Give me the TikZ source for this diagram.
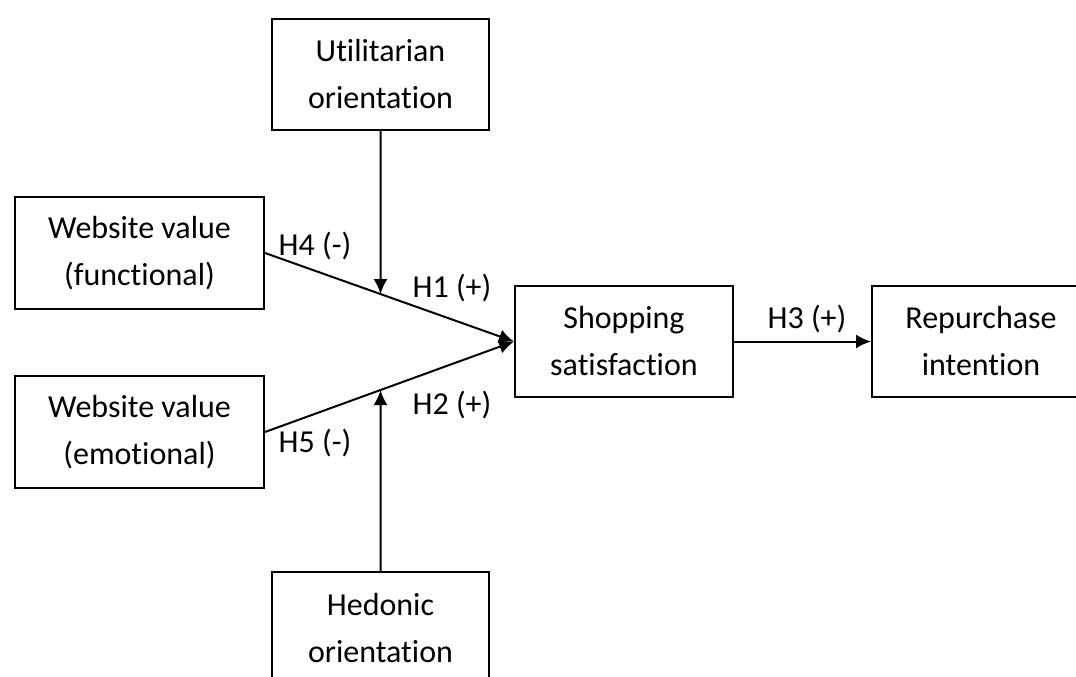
\documentclass[tikz,border=0pt]{standalone}
\usepackage{fontspec}
\setmainfont{Carlito}[Ligatures=NoCommon]
\usetikzlibrary{arrows.meta}
\begin{document}
\begin{tikzpicture}[x=1pt,y=-1pt,
  box/.style={draw,line width=2pt,align=center,inner sep=0pt,
    font=\fontsize{32}{47}\selectfont},
  lbl/.style={font=\fontsize{32}{47}\selectfont,inner sep=0pt},
  conn/.style={line width=2pt,-{Latex[length=15pt,width=14pt]}}]
\useasboundingbox (0,0) rectangle (1076,677);
\clip (0,0) rectangle (1076,677);
\node[box,minimum width=217pt,minimum height=111pt] (util) at (380.5,74.5) {Utilitarian\\orientation};
\node[box,minimum width=249pt,minimum height=112pt] (func) at (139.5,253) {Website value\\(functional)};
\node[box,minimum width=249pt,minimum height=112pt] (emot) at (139.5,432) {Website value\\(emotional)};
\node[box,minimum width=218pt,minimum height=111pt] (shop) at (624,341.5) {Shopping\\satisfaction};
\node[box,minimum width=218pt,minimum height=111pt] (rep) at (981,341.5) {Repurchase\\intention};
\node[box,minimum width=217pt,minimum height=111pt] (hed) at (380.5,627.5) {Hedonic\\orientation};
\coordinate (m1) at (intersection of func.east--shop.west and util.south--hed.north);
\coordinate (m2) at (intersection of emot.east--shop.west and util.south--hed.north);
\draw[conn] (func.east) -- (shop.west);
\draw[conn] (emot.east) -- (shop.west);
\draw[conn] (util.south) -- (m1);
\draw[conn] (hed.north) -- (m2);
\draw[conn] (shop.east) -- (rep.west);
\node[lbl] (h4) at (315,246) {H4 (-)};
\node[lbl] (h1) at (452,288) {H1 (+)};
\node[lbl] (h2) at (452,405) {H2 (+)};
\node[lbl] (h5) at (315,443) {H5 (-)};
\node[lbl] (h3) at (807,319) {H3 (+)};
\end{tikzpicture}
\end{document}
